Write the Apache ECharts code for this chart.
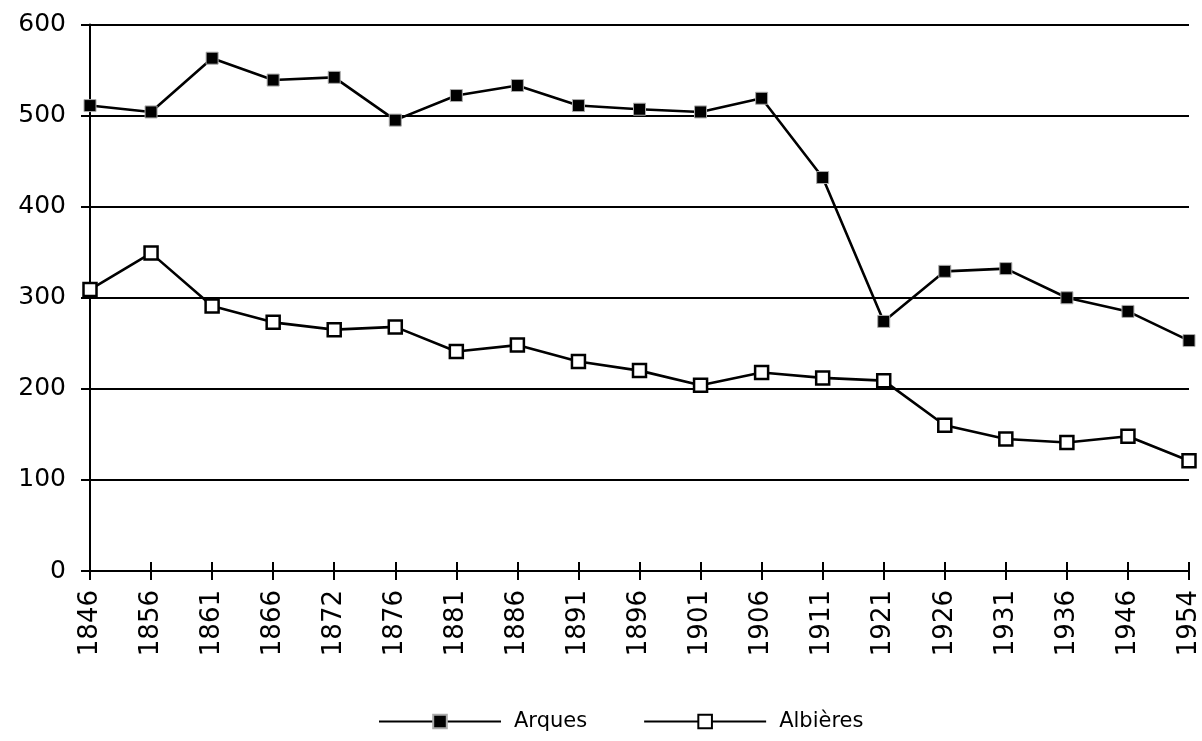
<!DOCTYPE html>
<html>
<head>
<meta charset="utf-8">
<script src="https://cdn.jsdelivr.net/npm/echarts@6/dist/echarts.min.js"></script>
<style>
  html, body { margin: 0; padding: 0; background: #fff; }
  #chart { width: 1202px; height: 741px; }
</style>
</head>
<body>
<div id="chart"></div>
<script>
// Census years
const years = ['1846', '1856', '1861', '1866', '1872', '1876', '1881', '1886', '1891', '1896',
               '1901', '1906', '1911', '1921', '1926', '1931', '1936', '1946', '1954'];
// Population of Arques
const arques = [511, 504, 563, 539, 542, 495, 522, 533, 511, 507,
                504, 519, 432, 274, 329, 332, 300, 285, 253];
// Population of Albières
const albieres = [309, 349, 291, 273, 265, 268, 241, 248, 230, 220,
                  204, 218, 212, 209, 160, 145, 141, 148, 121];

const FONT = '"DejaVu Sans", Verdana, sans-serif';
const INK = '#000';

const chart = echarts.init(document.getElementById('chart'), null, { renderer: 'canvas' });
chart.setOption({
  animation: false,
  backgroundColor: '#ffffff',
  grid: { left: 90, right: 6, top: 24.5, bottom: 170, containLabel: false },
  legend: {
    bottom: 4,
    left: 373,
    itemWidth: 122,
    itemHeight: 17,
    itemGap: 56,
    textStyle: { fontFamily: FONT, fontSize: 21, color: INK, padding: [0, 0, 0, 8] },
    data: ['Arques', 'Albières']
  },
  xAxis: [{
    type: 'category',
    data: years,
    boundaryGap: false,
    axisLine: { lineStyle: { color: INK, width: 2 } },
    axisTick: { show: true, length: 9, lineStyle: { color: INK, width: 2 } },
    axisLabel: { rotate: 90, margin: 19, fontFamily: FONT, fontSize: 26, color: INK },
    splitLine: { show: false }
  }, {
    // upper half of the ticks that cross the category axis
    type: 'category',
    data: years,
    position: 'bottom',
    boundaryGap: false,
    axisLine: { show: false },
    axisTick: { show: true, inside: true, length: 9, lineStyle: { color: INK, width: 2 } },
    axisLabel: { show: false },
    splitLine: { show: false }
  }],
  yAxis: [{
    type: 'value',
    min: 0,
    max: 600,
    interval: 100,
    axisLine: { show: true, lineStyle: { color: INK, width: 2 } },
    axisTick: { show: true, length: 9, lineStyle: { color: INK, width: 2 } },
    axisLabel: { margin: 24, fontFamily: FONT, fontSize: 25, color: INK },
    splitLine: { show: true, lineStyle: { color: INK, width: 2.2 } }
  }, {
    // inner half of the ticks that cross the value axis
    type: 'value',
    position: 'left',
    min: 0,
    max: 600,
    interval: 100,
    axisLine: { show: false },
    axisTick: { show: true, inside: true, length: 7, lineStyle: { color: INK, width: 2 } },
    axisLabel: { show: false },
    splitLine: { show: false }
  }],
  series: [{
    name: 'Arques',
    type: 'line',
    data: arques,
    symbol: 'rect',
    symbolSize: 12,
    lineStyle: { color: INK, width: 2.6 },
    itemStyle: { color: INK, borderColor: '#aaa', borderWidth: 1 },
    z: 3
  }, {
    name: 'Albières',
    type: 'line',
    data: albieres,
    symbol: 'rect',
    symbolSize: 13,
    lineStyle: { color: INK, width: 2.6 },
    itemStyle: { color: '#fff', borderColor: INK, borderWidth: 2.5 },
    z: 3
  }]
});
</script>
</body>
</html>
